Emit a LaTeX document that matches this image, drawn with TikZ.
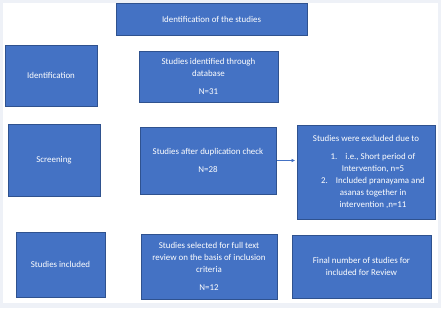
\documentclass[tikz,border=0pt]{standalone}
\usepackage{fontspec}
\setmainfont{Carlito}
\usetikzlibrary{arrows.meta,positioning,calc}
\definecolor{boxblue}{HTML}{4472C4}
\definecolor{boxedge}{HTML}{2F528F}
\definecolor{frame}{HTML}{EEF1F7}

\begin{document}
\begin{tikzpicture}[x=1pt,y=-1pt,>={Latex[length=3.5pt,width=3.5pt]},
  stage/.style={draw=boxedge,fill=boxblue,text=white,line width=0.8pt,inner sep=2pt,
    align=center,font=\fontsize{8.9}{12}\selectfont}]
\useasboundingbox (0,0) rectangle (441,308);
\fill[frame] (0,0) rectangle (441,308);
\fill[white] (3,3) rectangle (438,303);
% left column
\node[stage,minimum width=191pt,minimum height=32pt] (title) at (211.5,19) {Identification of the studies};
\node[stage,minimum width=92pt,minimum height=61pt] (ident) at (51,75.5) {Identification};
\node[stage,minimum width=92pt,minimum height=72pt] (screen) at (54,160) {Screening};
\node[stage,minimum width=89pt,minimum height=65pt] (incl) at (60.5,264.5) {Studies included};
% middle column
\node[stage,minimum width=139pt,minimum height=51pt] (found) at (208.5,76.5) {Studies identified through\\database\\[6pt]N=31};
\node[stage,minimum width=136pt,minimum height=67pt] (dedup) at (208,160.5) {Studies after duplication check\\[6pt]N=28};
\node[stage,minimum width=136pt,minimum height=65pt] (select) at (209,266.5) {Studies selected for full text\\review on the basis of inclusion\\criteria\\[6pt]N=12};
% right column
\node[stage,minimum width=138pt,minimum height=94pt] (excl) at (366,172) {Studies were excluded due to\\[6pt]
  \hspace*{14pt}1.\hspace{8pt}i.e., Short period of\\\hspace*{14pt}Intervention, n=5\\
  \hspace*{14pt}2.\hspace{8pt}Included pranayama and\\\hspace*{14pt}asanas together in\\\hspace*{14pt}intervention ,n=11};
\node[stage,minimum width=139pt,minimum height=63pt] (final) at (361.5,266.5) {Final number of studies for\\included for Review};
\draw[->,boxblue,line width=0.7pt,shorten <=1pt,shorten >=1.5pt] (dedup.east) -- (dedup.east -| excl.west);
\end{tikzpicture}
\end{document}
